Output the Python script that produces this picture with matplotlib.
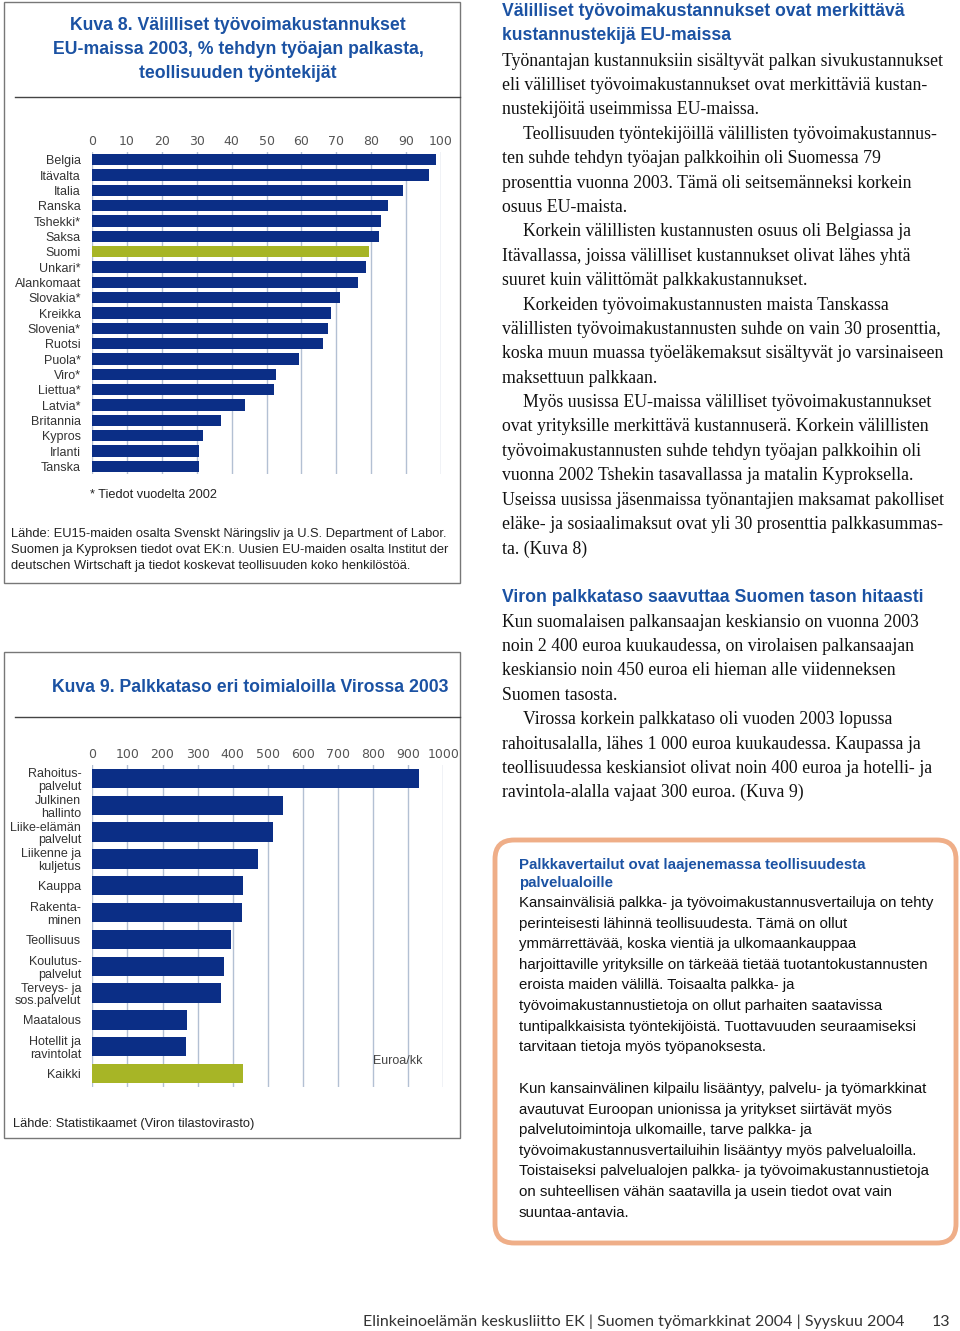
import matplotlib
matplotlib.use("Agg")
import matplotlib.pyplot as plt
from matplotlib.patches import Rectangle, FancyBboxPatch
from matplotlib.lines import Line2D

# ---------------- data ----------------
countries = ["Belgia", "Itävalta", "Italia", "Ranska", "Tshekki*", "Saksa", "Suomi",
             "Unkari*", "Alankomaat", "Slovakia*", "Kreikka", "Slovenia*", "Ruotsi",
             "Puola*", "Viro*", "Liettua*", "Latvia*", "Britannia", "Kypros",
             "Irlanti", "Tanska"]
indirect_pct = [98.7, 96.7, 89.0, 84.7, 82.9, 82.3, 79.4, 78.5, 76.1, 71.2, 68.6,
                67.5, 66.1, 59.2, 52.6, 52.1, 43.8, 36.9, 31.7, 30.8, 30.8]
pct_ticks = [0, 10, 20, 30, 40, 50, 60, 70, 80, 90, 100]

sectors = ["Rahoitus-\npalvelut", "Julkinen\nhallinto", "Liike-elämän\npalvelut",
           "Liikenne ja\nkuljetus", "Kauppa", "Rakenta-\nminen", "Teollisuus",
           "Koulutus-\npalvelut", "Terveys- ja\nsos.palvelut", "Maatalous",
           "Hotellit ja\nravintolat", "Kaikki"]
wage_eur = [932, 544, 516, 471, 430, 427, 395, 375, 366, 271, 267, 430]
eur_ticks = [0, 100, 200, 300, 400, 500, 600, 700, 800, 900, 1000]

NAVY = "#0b2e86"
GREEN = "#a7b526"
GRID = "#b3c0d3"
BLUE_TXT = "#1b52a3"

W, H = 960, 1331
fig = plt.figure(figsize=(W / 100, H / 100), dpi=100)


def fx(x):
    return x / W


def fy(y):
    return 1 - y / H


def text(x, y, s, **kw):
    kw.setdefault("va", "center")
    fig.text(fx(x), fy(y), s, **kw)


def hline(x0, x1, y, color="#555555", lw=1.0):
    fig.add_artist(Line2D([fx(x0), fx(x1)], [fy(y), fy(y)], color=color, lw=lw,
                          transform=fig.transFigure))


def box(x0, y0, x1, y1, color="#777777", lw=1.0):
    fig.add_artist(Rectangle((fx(x0), fy(y1)), fx(x1) - fx(x0), fy(y0) - fy(y1),
                             fill=False, edgecolor=color, lw=lw,
                             transform=fig.transFigure))


SANS = "Liberation Sans"
SERIF = "Liberation Serif"
HEAD_FS = 12.7
BODY_FS = 12.8
BOX_FS = 10.85

# ---------------- chart 1 frame ----------------
box(4, 2, 460, 583)
hline(15, 460, 97, color="#444444", lw=1.0)
for i, s in enumerate(["Kuva 8. Välilliset työvoimakustannukset",
                       "EU-maissa 2003, % tehdyn työajan palkasta,",
                       "teollisuuden työntekijät"]):
    text(238, 25 + 24 * i, s, ha="center", fontsize=HEAD_FS, fontweight="bold",
         color=BLUE_TXT, family=SANS)

ax1 = fig.add_axes([fx(92), fy(474), fx(441) - fx(92), (474 - 152) / H])
y1 = list(range(len(countries)))
colors1 = [GREEN if c == "Suomi" else NAVY for c in countries]
ax1.barh(y1, indirect_pct, height=0.76, color=colors1, zorder=3)
ax1.set_xlim(0, 100)
ax1.set_ylim(len(countries) - 0.5, -0.5)
ax1.set_xticks(pct_ticks)
ax1.xaxis.tick_top()
ax1.tick_params(axis="x", length=0, pad=3, labelsize=9, labelcolor="#555555")
ax1.set_yticks(y1)
ax1.set_yticklabels(countries, fontsize=9, color="#333333", family=SANS)
ax1.tick_params(axis="y", length=0, pad=8)
ax1.grid(axis="x", color=GRID, lw=1.0, zorder=0)
for sp in ax1.spines.values():
    sp.set_visible(False)

text(90, 495, "* Tiedot vuodelta 2002", ha="left", fontsize=9.2, color="#222222", family=SANS)
for i, s in enumerate(["Lähde: EU15-maiden osalta Svenskt Näringsliv ja U.S. Department of Labor.",
                       "Suomen ja Kyproksen tiedot ovat EK:n. Uusien EU-maiden osalta Institut der",
                       "deutschen Wirtschaft ja tiedot koskevat teollisuuden koko henkilöstöä."]):
    text(11, 534 + 16 * i, s, ha="left", fontsize=9.3, color="#222222", family=SANS)

# ---------------- chart 2 frame ----------------
box(4, 652, 460, 1138)
hline(15, 460, 717, color="#444444", lw=1.0)
text(250, 687, "Kuva 9. Palkkataso eri toimialoilla Virossa 2003", ha="center",
     fontsize=HEAD_FS, fontweight="bold", color=BLUE_TXT, family=SANS)

ax2 = fig.add_axes([fx(92.3), fy(1087), fx(443.3) - fx(92.3), (1087 - 765) / H])
y2 = list(range(len(sectors)))
colors2 = [GREEN if s == "Kaikki" else NAVY for s in sectors]
ax2.barh(y2, wage_eur, height=0.72, color=colors2, zorder=3)
ax2.set_xlim(0, 1000)
ax2.set_ylim(len(sectors) - 0.5, -0.5)
ax2.set_xticks(eur_ticks)
ax2.xaxis.tick_top()
ax2.tick_params(axis="x", length=0, pad=3, labelsize=9, labelcolor="#555555")
ax2.set_yticks(y2)
ax2.set_yticklabels(sectors, fontsize=9, color="#333333", family=SANS, linespacing=1.1)
ax2.tick_params(axis="y", length=0, pad=8)
ax2.grid(axis="x", color=GRID, lw=1.0, zorder=0)
for sp in ax2.spines.values():
    sp.set_visible(False)
ax2.text(0.87, 0.08, "Euroa/kk", transform=ax2.transAxes, ha="center", va="center",
         fontsize=9, color="#444444", family=SANS)

text(13, 1124, "Lähde: Statistikaamet (Viron tilastovirasto)", ha="left", fontsize=9.25,
     color="#222222", family=SANS)

# ---------------- right column ----------------
head1 = ["Välilliset työvoimakustannukset ovat merkittävä", "kustannustekijä EU-maissa"]
for i, s in enumerate(head1):
    text(502, 12 + 23.5 * i, s, ha="left", fontsize=HEAD_FS, fontweight="bold",
         color=BLUE_TXT, family=SANS)

body1 = [
    (0, "Työnantajan kustannuksiin sisältyvät palkan sivukustannukset"),
    (0, "eli välilliset työvoimakustannukset ovat merkittäviä kustan-"),
    (0, "nustekijöitä useimmissa EU-maissa."),
    (1, "Teollisuuden työntekijöillä välillisten työvoimakustannus-"),
    (0, "ten suhde tehdyn työajan palkkoihin oli Suomessa 79"),
    (0, "prosenttia vuonna 2003. Tämä oli seitsemänneksi korkein"),
    (0, "osuus EU-maista."),
    (1, "Korkein välillisten kustannusten osuus oli Belgiassa ja"),
    (0, "Itävallassa, joissa välilliset kustannukset olivat lähes yhtä"),
    (0, "suuret kuin välittömät palkkakustannukset."),
    (1, "Korkeiden työvoimakustannusten maista Tanskassa"),
    (0, "välillisten työvoimakustannusten suhde on vain 30 prosenttia,"),
    (0, "koska muun muassa työeläkemaksut sisältyvät jo varsinaiseen"),
    (0, "maksettuun palkkaan."),
    (1, "Myös uusissa EU-maissa välilliset työvoimakustannukset"),
    (0, "ovat yrityksille merkittävä kustannuserä. Korkein välillisten"),
    (0, "työvoimakustannusten suhde tehdyn työajan palkkoihin oli"),
    (0, "vuonna 2002 Tshekin tasavallassa ja matalin Kyproksella."),
    (0, "Useissa uusissa jäsenmaissa työnantajien maksamat pakolliset"),
    (0, "eläke- ja sosiaalimaksut ovat yli 30 prosenttia palkkasummas-"),
    (0, "ta. (Kuva 8)"),
]
for i, (ind, s) in enumerate(body1):
    text(502 + 21 * ind, 61 + 24.4 * i, s, ha="left", fontsize=BODY_FS, color="#111111",
         family=SERIF)

text(502, 597, "Viron palkkataso saavuttaa Suomen tason hitaasti", ha="left",
     fontsize=HEAD_FS, fontweight="bold", color=BLUE_TXT, family=SANS)
body2 = [
    (0, "Kun suomalaisen palkansaajan keskiansio on vuonna 2003"),
    (0, "noin 2 400 euroa kuukaudessa, on virolaisen palkansaajan"),
    (0, "keskiansio noin 450 euroa eli hieman alle viidenneksen"),
    (0, "Suomen tasosta."),
    (1, "Virossa korkein palkkataso oli vuoden 2003 lopussa"),
    (0, "rahoitusalalla, lähes 1 000 euroa kuukaudessa. Kaupassa ja"),
    (0, "teollisuudessa keskiansiot olivat noin 400 euroa ja hotelli- ja"),
    (0, "ravintola-alalla vajaat 300 euroa. (Kuva 9)"),
]
for i, (ind, s) in enumerate(body2):
    text(502 + 21 * ind, 622 + 24.4 * i, s, ha="left", fontsize=BODY_FS, color="#111111",
         family=SERIF)

# ---------------- orange box ----------------
fig.add_artist(FancyBboxPatch((fx(495), fy(1243)), fx(956) - fx(495), fy(840) - fy(1243),
                              boxstyle="round,pad=0,rounding_size=0.02",
                              mutation_aspect=W / H,
                              fill=False, edgecolor="#efae88", lw=3.5,
                              transform=fig.transFigure))
for i, s in enumerate(["Palkkavertailut ovat laajenemassa teollisuudesta", "palvelualoille"]):
    text(519, 865 + 18 * i, s, ha="left", fontsize=BOX_FS, fontweight="bold",
         color=BLUE_TXT, family=SANS)
box_p1 = [
    "Kansainvälisiä palkka- ja työvoimakustannusvertailuja on tehty",
    "perinteisesti lähinnä teollisuudesta. Tämä on ollut",
    "ymmärrettävää, koska vientiä ja ulkomaankauppaa",
    "harjoittaville yrityksille on tärkeää tietää tuotantokustannusten",
    "eroista maiden välillä. Toisaalta palkka- ja",
    "työvoimakustannustietoja on ollut parhaiten saatavissa",
    "tuntipalkkaisista työntekijöistä. Tuottavuuden seuraamiseksi",
    "tarvitaan tietoja myös työpanoksesta.",
]
box_p2 = [
    "Kun kansainvälinen kilpailu lisääntyy, palvelu- ja työmarkkinat",
    "avautuvat Euroopan unionissa ja yritykset siirtävät myös",
    "palvelutoimintoja ulkomaille, tarve palkka- ja",
    "työvoimakustannusvertailuihin lisääntyy myös palvelualoilla.",
    "Toistaiseksi palvelualojen palkka- ja työvoimakustannustietoja",
    "on suhteellisen vähän saatavilla ja usein tiedot ovat vain",
    "suuntaa-antavia.",
]
for i, s in enumerate(box_p1):
    text(519, 903 + 20.6 * i, s, ha="left", fontsize=BOX_FS, color="#111111", family=SANS)
for i, s in enumerate(box_p2):
    text(519, 1089 + 20.6 * i, s, ha="left", fontsize=BOX_FS, color="#111111", family=SANS)

# ---------------- footer ----------------
text(363, 1322, "Elinkeinoelämän keskusliitto EK | Suomen työmarkkinat 2004 | Syyskuu 2004",
     ha="left", fontsize=11.5, color="#333333", family="Lato")
text(932, 1322, "13", ha="left", fontsize=11.5, color="#333333", family="Lato")

fig.savefig("out.png", dpi=100, facecolor="white")
